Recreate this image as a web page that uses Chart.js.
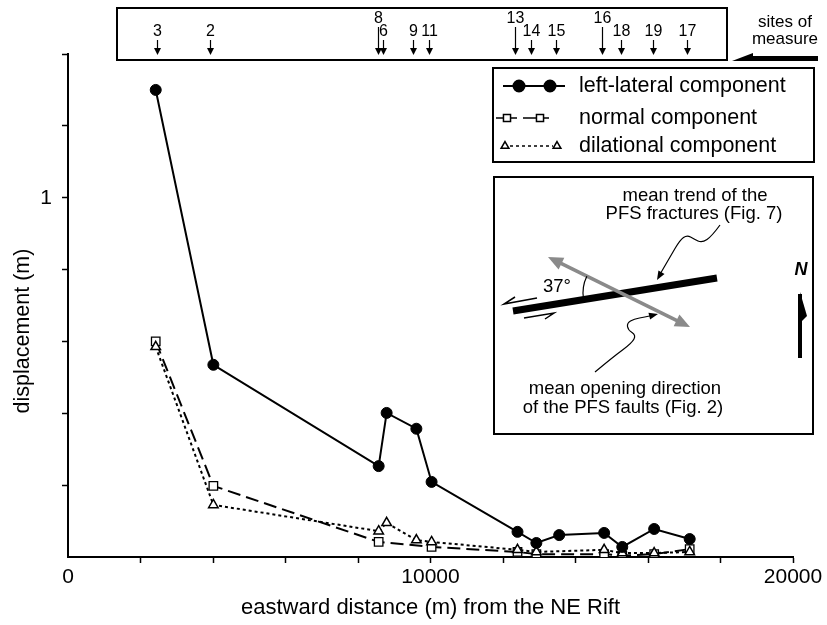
<!DOCTYPE html>
<html>
<head>
<meta charset="utf-8">
<script src="https://cdn.jsdelivr.net/npm/chart.js@4/dist/chart.umd.min.js"></script>
<style>
  html, body { margin: 0; padding: 0; background: #fff; }
  #wrap { width: 827px; height: 625px; }
</style>
</head>
<body>
<div id="wrap"><canvas id="dispChart" width="827" height="625"></canvas></div>
<script>
// eastward distance (m) of each measurement site
const distance = [2420, 4010, 8570, 8790, 9610, 10030, 12400, 12920, 13550, 14790, 15290, 16170, 17150];
const siteNames = ["3", "2", "8", "6", "9", "11", "13", "14", "15", "16", "18", "19", "17"];
// arrow positions in the "sites of measure" strip
const siteArrowDist = [2450, 3910, 8540, 8680, 9530, 9970, 12340, 12760, 13470, 14740, 15260, 16140, 17080];
const longArrowSites = ["8", "13", "16"];

// displacement components (m), null where no value was plotted
const leftLateral = [1.30, 0.535, 0.253, 0.401, 0.357, 0.209, 0.070, 0.039, 0.061, 0.067, 0.028, 0.078, 0.050];
const normalComp = [0.60, 0.198, 0.042, null, null, 0.028, 0.014, 0.008, null, 0.008, 0.004, 0.008, 0.022];
const dilational = [0.585, 0.145, 0.072, 0.095, 0.047, 0.042, 0.020, 0.014, null, 0.020, 0.011, 0.011, 0.014];

const xTickLabels = [0, 10000, 20000];
const yTickLabels = [1];

const FONT = "'Liberation Sans', Arial, Helvetica, sans-serif";
Chart.defaults.font.family = FONT;
Chart.defaults.color = "#000";

function toPoints(values) {
    return distance.map((d, i) => ({ x: d, y: values[i] }));
}

const lateralStyle = { pointStyle: "circle", radius: 5.5, borderWidth: 1 };
const normalStyle = { pointStyle: "rect", radius: 6, borderWidth: 1.3 };
const dilationStyle = { pointStyle: "triangle", radius: 5.5, borderWidth: 1.5 };

function arrowHead(ctx, x, y, angle, len, half) {
    ctx.beginPath();
    ctx.moveTo(x, y);
    ctx.lineTo(x - len * Math.cos(angle) - half * Math.sin(angle), y - len * Math.sin(angle) + half * Math.cos(angle));
    ctx.lineTo(x - len * Math.cos(angle) + half * Math.sin(angle), y - len * Math.sin(angle) - half * Math.cos(angle));
    ctx.closePath();
    ctx.fill();
}

function smoothPath(ctx, pts) {
    ctx.beginPath();
    ctx.moveTo(pts[0][0], pts[0][1]);
    for (let i = 1; i < pts.length - 1; i++) {
        const mx = (pts[i][0] + pts[i + 1][0]) / 2;
        const my = (pts[i][1] + pts[i + 1][1]) / 2;
        ctx.quadraticCurveTo(pts[i][0], pts[i][1], mx, my);
    }
    const last = pts[pts.length - 1];
    ctx.lineTo(last[0], last[1]);
    ctx.stroke();
}

function drawYTitle(ctx) {
    ctx.save();
    ctx.translate(23, 331);
    ctx.rotate(-Math.PI / 2);
    ctx.font = "21.5px " + FONT;
    ctx.textAlign = "center";
    ctx.textBaseline = "middle";
    ctx.fillText("displacement (m)", 0, 0);
    ctx.restore();
}

function drawSiteStrip(ctx, xScale) {
    ctx.lineWidth = 2;
    ctx.strokeRect(117, 8, 610, 52);

    ctx.font = "16px " + FONT;
    ctx.textAlign = "center";
    ctx.textBaseline = "middle";
    siteArrowDist.forEach((d, i) => {
        const px = Math.round(xScale.getPixelForValue(d)) + 0.5;
        const isLong = longArrowSites.includes(siteNames[i]);
        ctx.lineWidth = 1.2;
        ctx.beginPath();
        ctx.moveTo(px, isLong ? 27 : 40);
        ctx.lineTo(px, 49);
        ctx.stroke();
        arrowHead(ctx, px, 55, Math.PI / 2, 7, 3.5);
        ctx.fillText(siteNames[i], px, isLong ? 19 : 32);
    });

    ctx.font = "17px " + FONT;
    ctx.fillText("sites of", 785, 22);
    ctx.fillText("measure", 785, 39);
    ctx.fillRect(751, 56, 67, 5);
    ctx.beginPath();
    ctx.moveTo(732, 61);
    ctx.lineTo(753, 53);
    ctx.lineTo(753, 61);
    ctx.closePath();
    ctx.fill();
}

function drawLegend(ctx) {
    const pt = Chart.helpers.drawPoint;
    ctx.lineWidth = 2;
    ctx.strokeRect(493, 68, 321, 94);

    // left-lateral
    ctx.lineWidth = 2;
    ctx.beginPath();
    ctx.moveTo(503, 86);
    ctx.lineTo(565, 86);
    ctx.stroke();
    ctx.fillStyle = "#000";
    pt(ctx, lateralStyle, 519, 86);
    pt(ctx, lateralStyle, 550, 86);

    // normal
    ctx.lineWidth = 1.5;
    ctx.beginPath();
    ctx.moveTo(496, 118); ctx.lineTo(517, 118);
    ctx.moveTo(523, 118); ctx.lineTo(549, 118);
    ctx.stroke();
    ctx.fillStyle = "#fff";
    pt(ctx, { pointStyle: "rect", radius: 5, borderWidth: 1.2 }, 507, 118);
    pt(ctx, { pointStyle: "rect", radius: 5, borderWidth: 1.2 }, 540, 118);

    // dilational
    ctx.lineWidth = 1.5;
    ctx.setLineDash([3, 3]);
    ctx.beginPath();
    ctx.moveTo(510, 146); ctx.lineTo(553, 146);
    ctx.stroke();
    ctx.setLineDash([]);
    pt(ctx, { pointStyle: "triangle", radius: 4.5, borderWidth: 1.3 }, 505, 146);
    pt(ctx, { pointStyle: "triangle", radius: 4.5, borderWidth: 1.3 }, 557, 146);

    ctx.fillStyle = "#000";
    ctx.font = "21.5px " + FONT;
    ctx.textAlign = "left";
    ctx.textBaseline = "middle";
    ctx.fillText("left-lateral component", 579, 86);
    ctx.fillText("normal component", 579, 118);
    ctx.fillText("dilational component", 579, 146);
}

function drawInset(ctx) {
    ctx.lineWidth = 2;
    ctx.strokeRect(494, 177, 319, 257);

    ctx.font = "18.5px " + FONT;
    ctx.textAlign = "center";
    ctx.textBaseline = "middle";
    ctx.fillText("mean trend of the", 695, 196);
    ctx.fillText("PFS fractures (Fig. 7)", 694, 214);
    ctx.fillText("mean opening direction", 625, 389);
    ctx.fillText("of the PFS faults (Fig. 2)", 623, 408);
    ctx.fillText("37\u00B0", 557, 287);

    // fault trace
    ctx.lineWidth = 7;
    ctx.lineCap = "butt";
    ctx.beginPath();
    ctx.moveTo(513, 311);
    ctx.lineTo(717, 278);
    ctx.stroke();

    // opening direction, double headed
    ctx.strokeStyle = "#8a8a8a";
    ctx.fillStyle = "#8a8a8a";
    ctx.lineWidth = 3.5;
    const a = Math.atan2(327 - 257, 690 - 548);
    ctx.beginPath();
    ctx.moveTo(548 + 10 * Math.cos(a), 257 + 10 * Math.sin(a));
    ctx.lineTo(690 - 10 * Math.cos(a), 327 - 10 * Math.sin(a));
    ctx.stroke();
    arrowHead(ctx, 690, 327, a, 15, 6.5);
    arrowHead(ctx, 548, 257, a + Math.PI, 15, 6.5);
    ctx.strokeStyle = "#000";
    ctx.fillStyle = "#000";

    // angle arc
    ctx.lineWidth = 1.2;
    ctx.beginPath();
    ctx.arc(621, 293, 38, 171 * Math.PI / 180, 206 * Math.PI / 180);
    ctx.stroke();

    // shear sense half arrows
    ctx.lineWidth = 1.5;
    ctx.beginPath();
    ctx.moveTo(537, 298); ctx.lineTo(504, 304); ctx.lineTo(515, 297);
    ctx.moveTo(524, 318); ctx.lineTo(554, 313); ctx.lineTo(545, 319);
    ctx.stroke();

    // leader lines
    ctx.lineWidth = 1.2;
    const lead1 = [[720, 225], [712, 236], [702, 243], [694, 239], [687, 235], [680, 240], [670, 257], [659, 276]];
    smoothPath(ctx, lead1);
    arrowHead(ctx, 657, 280, Math.atan2(21, -12), 9, 3.5);
    const lead2 = [[595, 372], [613, 357], [632, 343], [636, 335], [628, 330], [627, 323], [634, 319], [645, 317], [654, 315]];
    smoothPath(ctx, lead2);
    arrowHead(ctx, 658, 314, Math.atan2(-3, 12), 9, 3.5);

    // north arrow
    ctx.font = "italic bold 18px " + FONT;
    ctx.fillText("N", 801, 270);
    ctx.fillRect(798, 294, 4, 64);
    ctx.beginPath();
    ctx.moveTo(800, 292);
    ctx.lineTo(807, 316);
    ctx.lineTo(800, 323);
    ctx.closePath();
    ctx.fill();
}

const extras = {
    id: "extras",
    afterDraw(chart) {
        const ctx = chart.ctx;
        ctx.save();
        ctx.fillStyle = "#000";
        ctx.strokeStyle = "#000";
        drawYTitle(ctx);
        drawSiteStrip(ctx, chart.scales.x);
        drawLegend(ctx);
        drawInset(ctx);
        ctx.restore();
    }
};

const hideZero = (c) => (c.tick && c.tick.value === 0 ? "rgba(0,0,0,0)" : "#000");

function yLabel(v) {
    const hit = yTickLabels.find((t) => Math.abs(t - v) < 1e-6);
    return hit === undefined ? "" : String(hit);
}

new Chart(document.getElementById("dispChart"), {
    type: "line",
    data: {
        datasets: [
            {
                label: "left-lateral component",
                data: toPoints(leftLateral),
                borderColor: "#000",
                backgroundColor: "#000",
                borderWidth: 2,
                pointStyle: "circle",
                pointRadius: lateralStyle.radius,
                pointBorderWidth: 1,
                order: 1
            },
            {
                label: "dilational component",
                data: toPoints(dilational),
                borderColor: "#000",
                backgroundColor: "#fff",
                borderWidth: 2,
                borderDash: [3, 3],
                spanGaps: true,
                pointStyle: "triangle",
                pointRadius: dilationStyle.radius,
                pointBorderWidth: dilationStyle.borderWidth,
                order: 2
            },
            {
                label: "normal component",
                data: toPoints(normalComp),
                borderColor: "#000",
                backgroundColor: "#fff",
                borderWidth: 2,
                borderDash: [13, 6],
                spanGaps: true,
                pointStyle: "rect",
                pointRadius: normalStyle.radius,
                pointBorderWidth: normalStyle.borderWidth,
                order: 3
            }
        ]
    },
    options: {
        responsive: false,
        animation: false,
        events: [],
        layout: { padding: { top: 54, right: 34, left: 0, bottom: 0 } },
        plugins: {
            legend: { display: false },
            tooltip: { enabled: false }
        },
        scales: {
            x: {
                type: "linear",
                min: 0,
                max: 20000,
                afterFit: (s) => { s.height = 68; },
                border: { display: true, color: "#000", width: 2 },
                grid: {
                    drawOnChartArea: false,
                    drawTicks: true,
                    tickLength: 6,
                    tickWidth: 1.5,
                    color: hideZero,
                    tickColor: hideZero
                },
                ticks: {
                    stepSize: 2000,
                    autoSkip: false,
                    maxRotation: 0,
                    padding: 2,
                    font: { size: 21 },
                    callback: (v) => (xTickLabels.includes(v) ? String(v) : "")
                },
                title: {
                    display: true,
                    text: "eastward distance (m) from the NE Rift",
                    font: { size: 22 },
                    padding: { top: 0, bottom: 4 }
                }
            },
            y: {
                min: 0,
                max: 1.4,
                afterFit: (s) => { s.width = 68; },
                border: { display: true, color: "#000", width: 2 },
                grid: {
                    drawOnChartArea: false,
                    drawTicks: true,
                    tickLength: 6,
                    tickWidth: 1.5,
                    color: hideZero,
                    tickColor: hideZero
                },
                ticks: {
                    stepSize: 0.2,
                    autoSkip: false,
                    padding: 10,
                    font: { size: 21 },
                    callback: yLabel
                }
            }
        }
    },
    plugins: [extras]
});
</script>
</body>
</html>
